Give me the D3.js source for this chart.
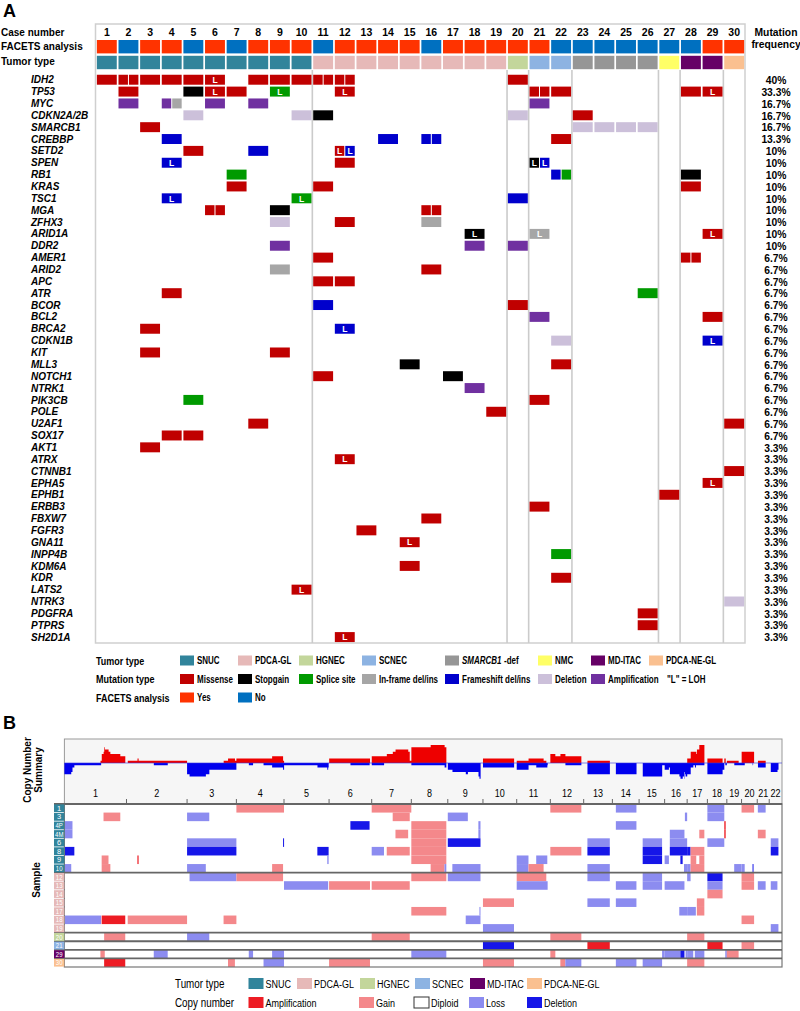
<!DOCTYPE html>
<html><head><meta charset="utf-8">
<script src="https://cdn.jsdelivr.net/npm/d3@7"></script>
<style>body{margin:0;background:#fff} text{font-family:Arial,"Liberation Sans",sans-serif}</style>
</head><body>
<svg id="c" width="800" height="1011"></svg>
<script>
// ---------------- DATA: Panel A ----------------
const caseNumbers = ["1","2","3","4","5","6","7","8","9","10","11","12","13","14","15","16","17","18","19","20","21","22","23","24","25","26","27","28","29","30"];
const facets = ["Yes","No","Yes","Yes","No","Yes","No","Yes","Yes","Yes","No","Yes","Yes","Yes","Yes","No","Yes","Yes","Yes","Yes","Yes","No","No","No","No","No","No","No","Yes","Yes"];
const tumorTypes = ["SNUC","SNUC","SNUC","SNUC","SNUC","SNUC","SNUC","SNUC","SNUC","SNUC",
  "PDCA-GL","PDCA-GL","PDCA-GL","PDCA-GL","PDCA-GL","PDCA-GL","PDCA-GL","PDCA-GL","PDCA-GL",
  "HGNEC","SCNEC","SCNEC","SMARCB1-def","SMARCB1-def","SMARCB1-def","SMARCB1-def","NMC","MD-ITAC","MD-ITAC","PDCA-NE-GL"];
const genes = ["IDH2","TP53","MYC","CDKN2A/2B","SMARCB1","CREBBP","SETD2","SPEN","RB1","KRAS","TSC1","MGA","ZFHX3","ARID1A","DDR2",
  "AMER1","ARID2","APC","ATR","BCOR","BCL2","BRCA2","CDKN1B","KIT","MLL3","NOTCH1","NTRK1","PIK3CB","POLE","U2AF1","SOX17",
  "AKT1","ATRX","CTNNB1","EPHA5","EPHB1","ERBB3","FBXW7","FGFR3","GNA11","INPP4B","KDM6A","KDR","LATS2","NTRK3","PDGFRA","PTPRS","SH2D1A"];
const frequencies = ["40%","33.3%","16.7%","16.7%","16.7%","13.3%","10%","10%","10%","10%","10%","10%","10%","10%","10%",
  "6.7%","6.7%","6.7%","6.7%","6.7%","6.7%","6.7%","6.7%","6.7%","6.7%","6.7%","6.7%","6.7%","6.7%","6.7%","6.7%",
  "3.3%","3.3%","3.3%","3.3%","3.3%","3.3%","3.3%","3.3%","3.3%","3.3%","3.3%","3.3%","3.3%","3.3%","3.3%","3.3%","3.3%"];
const mutationTypes = ["Missense","Stopgain","Splice site","In-frame del/ins","Frameshift del/ins","Deletion","Amplification"];
const mutationCodes = {M:"Missense",S:"Stopgain",P:"Splice site",I:"In-frame del/ins",F:"Frameshift del/ins",D:"Deletion",A:"Amplification"};
// [gene, case, type code, LOH flag]
const mutations = [
 ["IDH2",1,"M"],["IDH2",2,"M"],["IDH2",2,"M"],["IDH2",3,"M"],["IDH2",4,"M"],["IDH2",5,"M"],["IDH2",6,"M",1],["IDH2",8,"M"],["IDH2",9,"M"],["IDH2",10,"M"],["IDH2",11,"M"],["IDH2",11,"M"],["IDH2",12,"M"],["IDH2",12,"M"],["IDH2",20,"M"],
 ["TP53",2,"M"],["TP53",5,"S"],["TP53",6,"M",1],["TP53",7,"M"],["TP53",9,"P",1],["TP53",12,"M",1],["TP53",21,"M"],["TP53",21,"M"],["TP53",22,"M"],["TP53",28,"M"],["TP53",29,"M",1],
 ["MYC",2,"A"],["MYC",4,"A"],["MYC",4,"I"],["MYC",6,"A"],["MYC",8,"A"],["MYC",21,"A"],
 ["CDKN2A/2B",5,"D"],["CDKN2A/2B",10,"D"],["CDKN2A/2B",11,"S"],["CDKN2A/2B",20,"D"],["CDKN2A/2B",23,"M"],
 ["SMARCB1",3,"M"],["SMARCB1",23,"D"],["SMARCB1",24,"D"],["SMARCB1",25,"D"],["SMARCB1",26,"D"],
 ["CREBBP",4,"F"],["CREBBP",14,"F"],["CREBBP",16,"F"],["CREBBP",16,"F"],["CREBBP",22,"M"],
 ["SETD2",5,"M"],["SETD2",8,"F"],["SETD2",12,"M",1],["SETD2",12,"F",1],
 ["SPEN",4,"F",1],["SPEN",12,"M"],["SPEN",21,"S",1],["SPEN",21,"F",1],
 ["RB1",7,"P"],["RB1",22,"F"],["RB1",22,"P"],["RB1",28,"S"],
 ["KRAS",7,"M"],["KRAS",11,"M"],["KRAS",28,"M"],
 ["TSC1",4,"F",1],["TSC1",10,"P",1],["TSC1",20,"F"],
 ["MGA",6,"M"],["MGA",6,"M"],["MGA",9,"S"],["MGA",16,"M"],["MGA",16,"M"],
 ["ZFHX3",9,"D"],["ZFHX3",12,"M"],["ZFHX3",16,"I"],
 ["ARID1A",18,"S",1],["ARID1A",21,"I",1],["ARID1A",29,"M",1],
 ["DDR2",9,"A"],["DDR2",18,"A"],["DDR2",20,"A"],
 ["AMER1",11,"M"],["AMER1",28,"M"],["AMER1",28,"M"],
 ["ARID2",9,"I"],["ARID2",16,"M"],
 ["APC",11,"M"],["APC",12,"M"],
 ["ATR",4,"M"],["ATR",26,"P"],
 ["BCOR",11,"F"],["BCOR",20,"M"],
 ["BCL2",21,"A"],["BCL2",29,"M"],
 ["BRCA2",3,"M"],["BRCA2",12,"F",1],
 ["CDKN1B",22,"D"],["CDKN1B",29,"F",1],
 ["KIT",3,"M"],["KIT",9,"M"],
 ["MLL3",15,"S"],["MLL3",22,"M"],
 ["NOTCH1",11,"M"],["NOTCH1",17,"S"],
 ["NTRK1",18,"A"],
 ["PIK3CB",5,"P"],["PIK3CB",21,"M"],
 ["POLE",19,"M"],
 ["U2AF1",8,"M"],["U2AF1",30,"M"],
 ["SOX17",4,"M"],["SOX17",5,"M"],
 ["AKT1",3,"M"],["ATRX",12,"M",1],["CTNNB1",30,"M"],["EPHA5",29,"M",1],["EPHB1",27,"M"],["ERBB3",21,"M"],["FBXW7",16,"M"],
 ["FGFR3",13,"M"],["GNA11",15,"M",1],["INPP4B",22,"P"],["KDM6A",15,"M"],["KDR",22,"M"],["LATS2",10,"M",1],["NTRK3",30,"D"],
 ["PDGFRA",26,"M"],["PTPRS",26,"M"],["SH2D1A",12,"M",1]
];
const legendTumorTypes = ["SNUC","PDCA-GL","HGNEC","SCNEC","SMARCB1-def","NMC","MD-ITAC","PDCA-NE-GL"];
const facetsLevels = ["Yes","No"];

// ---------------- DATA: Panel B ----------------
const chromosomes = ["1","2","3","4","5","6","7","8","9","10","11","12","13","14","15","16","17","18","19","20","21","22"];
const chromLengths = [249.3,243.2,198.0,191.2,180.9,171.1,159.1,146.4,141.2,135.5,135.0,133.9,115.2,107.3,102.5,90.4,81.2,78.1,59.1,63.0,48.1,51.3];
const cnSamples = ["1","3","4P","4M","6","8","9","10","12","13","14","15","17","18","19","20","21","29","30"];
const cnSampleTypes = ["SNUC","SNUC","SNUC","SNUC","SNUC","SNUC","SNUC","SNUC","PDCA-GL","PDCA-GL","PDCA-GL","PDCA-GL","PDCA-GL","PDCA-GL","PDCA-GL","HGNEC","SCNEC","MD-ITAC","PDCA-NE-GL"];
const cnStates = ["Amplification","Gain","Diploid","Loss","Deletion"];
const cnTumorLegend = ["SNUC","PDCA-GL","HGNEC","SCNEC","MD-ITAC","PDCA-NE-GL"];
// [sample, chromosome, start fraction, end fraction, state]
const cnSegments = [
 ["1",4,0,1,"Gain"],["1",7,0,1,"Gain"],["1",12,0,0.93,"Gain"],["1",14,0.13,0.9,"Loss"],["1",18,0,0.87,"Loss"],["1",20,0,0.8,"Gain"],["1",21,0.05,0.7,"Loss"],
 ["3",1,0.63,0.9,"Gain"],["3",3,0,0.45,"Loss"],["3",7,0.53,0.96,"Gain"],["3",9,0,0.57,"Loss"],["3",16,0.9,1,"Loss"],["3",18,0,0.87,"Loss"],
 ["4P",1,0,0.13,"Loss"],["4P",6,0.5,0.95,"Deletion"],["4P",8,0,0.96,"Gain"],["4P",9,0.87,0.93,"Loss"],["4P",14,0.13,0.9,"Loss"],["4P",18,0.87,0.94,"Amplification"],
 ["4M",1,0,0.13,"Loss"],["4M",7,0.6,0.92,"Gain"],["4M",8,0,0.96,"Gain"],["4M",9,0.87,0.93,"Loss"],["4M",16,0.23,0.88,"Loss"],["4M",17,0.6,0.85,"Gain"],["4M",18,0.87,0.94,"Amplification"],["4M",21,0.05,0.7,"Gain"],
 ["6",3,0,1,"Loss"],["6",4,0.98,1,"Deletion"],["6",8,0,0.96,"Gain"],["6",9,0,0.93,"Deletion"],["6",13,0.13,0.91,"Loss"],["6",15,0.14,0.9,"Loss"],["6",16,0.23,1,"Loss"],["6",18,0,0.87,"Loss"],["6",22,0.12,0.72,"Loss"],
 ["8",1,0,0.16,"Deletion"],["8",3,0,1,"Deletion"],["8",5,0.74,0.99,"Deletion"],["8",7,0,0.31,"Loss"],["8",7,0.38,0.96,"Gain"],["8",8,0,0.96,"Gain"],["8",12,0,0.93,"Gain"],["8",13,0.13,0.91,"Deletion"],["8",15,0.14,0.9,"Deletion"],["8",16,0.23,1,"Deletion"],["8",17,0,0.17,"Deletion"],["8",17,0.17,0.85,"Gain"],["8",22,0.12,0.72,"Deletion"],
 ["9",1,0.6,0.71,"Gain"],["9",2,0.18,0.2,"Amplification"],["9",5,0.96,0.99,"Loss"],["9",8,0,0.96,"Gain"],["9",11,0,0.35,"Loss"],["9",11,0.58,0.91,"Loss"],["9",15,0.14,0.9,"Deletion"],["9",16,0,0.19,"Loss"],["9",16,0.7,0.8,"Deletion"],["9",17,0.17,0.45,"Gain"],["9",17,0.6,0.85,"Gain"],
 ["10",1,0,0.11,"Loss"],["10",1,0.6,0.74,"Gain"],["10",3,0,0.38,"Loss"],["10",4,0.75,0.98,"Gain"],["10",8,0.53,0.91,"Gain"],["10",8,0.91,0.96,"Loss"],["10",9,0.13,0.93,"Loss"],["10",11,0,0.35,"Loss"],["10",11,0.35,0.8,"Gain"],["10",13,0.13,0.91,"Loss"],["10",16,0.86,1,"Loss"],["10",17,0,0.17,"Loss"],["10",17,0.17,0.85,"Gain"],["10",19,0.5,1,"Loss"],["10",20,0,0.2,"Loss"],["10",20,0.7,0.73,"Deletion"],
 ["12",3,0.05,1,"Loss"],["12",4,0,0.98,"Gain"],["12",8,0,0.96,"Gain"],["12",9,0,0.93,"Loss"],["12",11,0,0.88,"Gain"],["12",13,0.13,0.91,"Loss"],["12",15,0.14,0.9,"Loss"],["12",17,0,0.17,"Loss"],["12",18,0,0.78,"Deletion"],["12",20,0,0.8,"Gain"],
 ["13",5,0,0.98,"Loss"],["13",6,0,0.96,"Gain"],["13",7,0,0.96,"Gain"],["13",11,0,0.92,"Loss"],["13",14,0.13,0.9,"Loss"],["13",15,0.14,0.9,"Loss"],["13",16,0,0.88,"Loss"],["13",18,0,0.78,"Loss"],["13",20,0,0.8,"Gain"],["13",21,0.05,0.7,"Loss"],["13",22,0.12,0.64,"Loss"],
 ["14",18,0,0.78,"Gain"],
 ["15",10,0,0.92,"Gain"],["15",13,0.13,0.91,"Loss"],["15",14,0.13,0.9,"Loss"],["15",17,0.48,0.85,"Gain"],
 ["17",8,0,0.96,"Gain"],["17",9,0.9,0.93,"Loss"],["17",16,0.65,1,"Loss"],["17",17,0,0.43,"Loss"],["17",17,0.48,0.85,"Gain"],
 ["18",1,0,0.59,"Loss"],["18",1,0.6,0.98,"Amplification"],["18",2,0.02,1,"Gain"],["18",3,0.74,1,"Gain"],["18",9,0.51,0.93,"Loss"],["18",20,0,0.8,"Gain"],
 ["19",10,0,0.92,"Loss"],["19",22,0.12,0.72,"Loss"],
 ["20",1,0.64,0.98,"Gain"],["20",3,0,0.45,"Loss"],["20",7,0,0.96,"Gain"],["20",12,0,0.93,"Gain"],["20",17,0,0.85,"Gain"],
 ["21",10,0,0.92,"Deletion"],["21",13,0.13,0.91,"Amplification"],["21",18,0,0.78,"Amplification"],["21",20,0,0.8,"Gain"],
 ["29",1,0.58,0.65,"Gain"],["29",2,0.45,0.68,"Loss"],["29",4,0.26,0.35,"Loss"],["29",4,0.75,1,"Loss"],["29",8,0,0.96,"Loss"],["29",12,0,0.15,"Gain"],["29",15,0.9,1,"Loss"],["29",16,0,0.7,"Loss"],["29",16,0.7,0.88,"Deletion"],["29",16,0.93,1,"Loss"],["29",17,0,0.3,"Loss"],["29",17,0.38,0.85,"Loss"],["29",18,0.92,1,"Loss"],["29",19,0,0.8,"Gain"],
 ["30",1,0.64,0.98,"Amplification"],["30",3,0.83,0.97,"Gain"],["30",4,0.57,1,"Loss"],["30",6,0,0.96,"Gain"],["30",10,0,0.92,"Gain"],["30",12,0.3,0.45,"Gain"],["30",12,0.45,0.93,"Loss"],["30",14,0.13,0.9,"Loss"],["30",15,0.14,0.9,"Loss"],["30",17,0,0.85,"Gain"]
];

// ---------------- STYLE ----------------
const tumorColors = {"SNUC":"#31849b","PDCA-GL":"#e6b9b8","HGNEC":"#c3d69b","SCNEC":"#8db3e2","SMARCB1-def":"#969696","NMC":"#ffff66","MD-ITAC":"#660066","PDCA-NE-GL":"#fac090"};
const facetsColors = {"Yes":"#ff3300","No":"#0070c0"};
const mutColors = {"Missense":"#c00000","Stopgain":"#000000","Splice site":"#009a00","In-frame del/ins":"#a6a6a6","Frameshift del/ins":"#0000cc","Deletion":"#ccc0da","Amplification":"#7030a0"};
const cnColors = {"Amplification":"#ed1c24","Gain":"#f4888b","Diploid":"#ffffff","Loss":"#8c8cf0","Deletion":"#1616e8"};

// condensed (narrow-font) look via horizontal scaling of each text
function squeeze(sel, f){
  sel.each(function(){
    const x = +this.getAttribute("x") || 0, y = +this.getAttribute("y") || 0;
    this.setAttribute("x",0); this.setAttribute("y",0);
    this.setAttribute("transform",`translate(${x},${y}) scale(${f},1)`);
  });
  return sel;
}

const svg = d3.select("#c");

// ================= PANEL A =================
svg.append("text").text("A").attr("x",3).attr("y",17).attr("font-size",18).attr("font-weight","bold");

const xA = d3.scaleBand().domain(caseNumbers).range([96,745]).paddingInner(0.08).paddingOuter(0.04);
const yA = d3.scaleBand().domain(genes).range([73.8,643]).paddingInner(0.16).paddingOuter(0.08);
const bw = xA.bandwidth(), bh = yA.bandwidth();

svg.append("rect").attr("x",95.5).attr("y",24).attr("width",649.5).attr("height",619)
  .attr("fill","none").attr("stroke","#cfcfcf").attr("stroke-width",1.5);

[["Case number",35.5],["FACETS analysis",50],["Tumor type",64.5]].forEach(([t,y])=>{
  svg.append("text").text(t).attr("x",1).attr("y",y).attr("font-size",10).attr("font-weight","bold");
});
svg.append("text").text("Mutation").attr("x",776).attr("y",35.5).attr("text-anchor","middle").attr("font-size",10.3).attr("font-weight","bold");
svg.append("text").text("frequency").attr("x",776).attr("y",48).attr("text-anchor","middle").attr("font-size",10.3).attr("font-weight","bold");

svg.append("g").selectAll("text").data(caseNumbers).join("text")
  .attr("x",d=>xA(d)+bw/2).attr("y",35.5).attr("text-anchor","middle")
  .attr("font-size",10.5).attr("font-weight","bold").text(d=>d);
svg.append("g").selectAll("rect").data(caseNumbers).join("rect")
  .attr("x",d=>xA(d)).attr("y",40).attr("width",bw).attr("height",13.4)
  .attr("fill",(d,i)=>facetsColors[facets[i]]);
svg.append("g").selectAll("rect").data(caseNumbers).join("rect")
  .attr("x",d=>xA(d)).attr("y",55.8).attr("width",bw).attr("height",13.4)
  .attr("fill",(d,i)=>tumorColors[tumorTypes[i]]);

const seps = [];
for(let i=1;i<caseNumbers.length;i++){ if(tumorTypes[i]!==tumorTypes[i-1]) seps.push((xA(caseNumbers[i-1])+bw+xA(caseNumbers[i]))/2); }
svg.append("g").selectAll("line").data(seps).join("line")
  .attr("x1",d=>d).attr("x2",d=>d).attr("y1",70).attr("y2",643)
  .attr("stroke","#cbcbcb").attr("stroke-width",1.6);

svg.append("g").selectAll("text").data(genes).join("text")
  .attr("x",31).attr("y",d=>yA(d)+bh/2+3.6).attr("font-size",10)
  .attr("font-weight","bold").attr("font-style","italic").text(d=>d);
svg.append("g").selectAll("text").data(frequencies).join("text")
  .attr("x",776).attr("y",(d,i)=>yA(genes[i])+bh/2+4.2).attr("text-anchor","middle")
  .attr("font-size",10.3).attr("font-weight","bold").text(d=>d);

const grouped = d3.group(mutations, d=>d[0]+"|"+d[1]);
const cells = [];
grouped.forEach(list=>{
  const n = list.length;
  list.forEach((m,k)=>{
    const x0 = xA(String(m[1])), y0 = yA(m[0]);
    const w = n===1 ? bw : (bw-1)/2;
    cells.push({x:x0 + k*(w+1), y:y0, w, h:bh, type:mutationCodes[m[2]], loh:!!m[3]});
  });
});
const cg = svg.append("g");
cg.selectAll("rect").data(cells).join("rect")
  .attr("x",d=>d.x).attr("y",d=>d.y).attr("width",d=>d.w).attr("height",d=>d.h)
  .attr("fill",d=>mutColors[d.type]);
cg.selectAll("text").data(cells.filter(d=>d.loh)).join("text")
  .attr("x",d=>d.x+d.w/2).attr("y",d=>d.y+d.h/2+3.2).attr("text-anchor","middle")
  .attr("font-size",8.5).attr("font-weight","bold").attr("fill","#fff").text("L");

// legend A
const lgCols = [180,238,299,362,445,538,591,649];
function legendRow(y, label, items, colorOf, xs){
  squeeze(svg.append("text").text(label).attr("x",96).attr("y",y+4).attr("font-size",11)
    .attr("font-weight","bold"), 0.82);
  items.forEach((it,i)=>{
    svg.append("rect").attr("x",xs[i]).attr("y",y-5).attr("width",14).attr("height",10).attr("fill",colorOf(it));
    if(it==="SMARCB1-def"){
      const t1 = svg.append("text").attr("x",xs[i]+17).attr("y",y+3.5).attr("font-size",10)
        .attr("font-weight","bold").attr("font-style","italic").text("SMARCB1");
      const w1 = t1.node().getComputedTextLength()*0.8;
      squeeze(t1, 0.8);
      squeeze(svg.append("text").attr("x",xs[i]+17+w1+2.5).attr("y",y+3.5).attr("font-size",10)
        .attr("font-weight","bold").text("-def"), 0.8);
    } else {
      squeeze(svg.append("text").attr("x",xs[i]+17).attr("y",y+3.5).attr("font-size",10)
        .attr("font-weight","bold").text(it), 0.8);
    }
  });
}
legendRow(660.5,"Tumor type",legendTumorTypes,d=>tumorColors[d],lgCols);
legendRow(679,"Mutation type",mutationTypes,d=>mutColors[d],lgCols);
squeeze(svg.append("text").text('"L" = LOH').attr("x",667).attr("y",682.5).attr("font-size",10)
  .attr("font-weight","bold"), 0.8);
legendRow(697.5,"FACETS analysis",facetsLevels,d=>facetsColors[d],lgCols);

// ================= PANEL B =================
svg.append("text").text("B").attr("x",3).attr("y",729).attr("font-size",18).attr("font-weight","bold");

const x0B = 64.4, x1B = 782;
const chrOffsets = [0, ...d3.cumsum(chromLengths)];
const genomeTotal = d3.sum(chromLengths);
const gx = d3.scaleLinear().domain([0,genomeTotal]).range([x0B,x1B]);

svg.append("rect").attr("x",x0B).attr("y",739).attr("width",x1B-x0B).attr("height",65)
  .attr("fill","#f6f6f6").attr("stroke","#999").attr("stroke-width",1);

const segs = cnSegments.map(([s,c,f0,f1,st])=>({s,st,
  a:chrOffsets[c-1]+f0*chromLengths[c-1], b:chrOffsets[c-1]+f1*chromLengths[c-1]}));
const bins = d3.range(0,genomeTotal,0.5).map(p=>{
  let pos=0,neg=0;
  segs.forEach(g=>{ if(p>=g.a && p<g.b){ if(g.st==="Gain"||g.st==="Amplification") pos++; else if(g.st==="Loss"||g.st==="Deletion") neg++; }});
  return {p,pos,neg};
});
const baseY = 763;
const ys = d3.scaleLinear().domain([-cnSamples.length,cnSamples.length]).range([baseY+43,baseY-43]);
svg.append("path").datum(bins).attr("fill","#ee0000")
  .attr("d",d3.area().curve(d3.curveStepAfter).x(d=>gx(d.p)).y0(baseY).y1(d=>ys(d.pos)));
svg.append("path").datum(bins).attr("fill","#0000ee")
  .attr("d",d3.area().curve(d3.curveStepAfter).x(d=>gx(d.p)).y0(baseY).y1(d=>ys(-d.neg)));
svg.append("line").attr("x1",x0B).attr("x2",x1B).attr("y1",baseY).attr("y2",baseY).attr("stroke","#3333dd").attr("stroke-width",0.6);

squeeze(svg.append("g").selectAll("text").data(chromosomes).join("text")
  .attr("x",(d,i)=>gx(chrOffsets[i]+chromLengths[i]/2)).attr("y",797)
  .attr("text-anchor","middle").attr("font-size",11).text(d=>d), 0.82);
svg.append("g").selectAll("line").data(chrOffsets.slice(1,-1)).join("line")
  .attr("x1",d=>gx(d)).attr("x2",d=>gx(d)).attr("y1",799).attr("y2",804)
  .attr("stroke","#666").attr("stroke-width",1);

const yB = d3.scaleBand().domain(cnSamples).range([804,967]);
const rh = yB.bandwidth();
svg.append("g").selectAll("rect").data(segs).join("rect")
  .attr("x",d=>gx(d.a)).attr("width",d=>Math.max(1,gx(d.b)-gx(d.a)))
  .attr("y",d=>yB(d.s)).attr("height",rh).attr("fill",d=>cnColors[d.st]);
svg.append("rect").attr("x",x0B).attr("y",804).attr("width",x1B-x0B).attr("height",163)
  .attr("fill","none").attr("stroke","#777").attr("stroke-width",1.2);
const bSeps = [];
for(let i=1;i<cnSamples.length;i++){ if(cnSampleTypes[i]!==cnSampleTypes[i-1]) bSeps.push(yB(cnSamples[i])); }
svg.append("g").selectAll("line").data(bSeps).join("line")
  .attr("x1",54).attr("x2",x1B).attr("y1",d=>d).attr("y2",d=>d)
  .attr("stroke","#666").attr("stroke-width",1.8);
svg.append("line").attr("x1",54).attr("x2",x1B).attr("y1",804).attr("y2",804).attr("stroke","#666").attr("stroke-width",1.8);
svg.append("g").selectAll("rect").data(cnSamples).join("rect")
  .attr("x",54).attr("y",d=>yB(d)+0.4).attr("width",10.4).attr("height",rh-0.8)
  .attr("fill",(d,i)=>tumorColors[cnSampleTypes[i]]);
svg.append("g").selectAll("text").data(cnSamples).join("text")
  .attr("x",59.2).attr("y",d=>yB(d)+rh/2+2.6).attr("text-anchor","middle")
  .attr("font-size",7.5).attr("fill","#fff").text(d=>d)
  .each(function(d){ if(d.length>1) squeeze(d3.select(this),0.8); });

svg.append("text").attr("transform","translate(31,770) rotate(-90)").attr("text-anchor","middle")
  .attr("font-size",10).attr("font-weight","bold").text("Copy Number");
svg.append("text").attr("transform","translate(42,770) rotate(-90)").attr("text-anchor","middle")
  .attr("font-size",10).attr("font-weight","bold").text("Summary");
svg.append("text").attr("transform","translate(40,880) rotate(-90)").attr("text-anchor","middle")
  .attr("font-size",10).attr("font-weight","bold").text("Sample");

// legend B
const lbX = [248.5,297,360,415,470,527];
squeeze(svg.append("text").text("Tumor type").attr("x",175).attr("y",988).attr("font-size",12), 0.82);
cnTumorLegend.forEach((t,i)=>{
  svg.append("rect").attr("x",lbX[i]).attr("y",978).attr("width",15).attr("height",11).attr("fill",tumorColors[t]);
  squeeze(svg.append("text").text(t).attr("x",lbX[i]+17).attr("y",987.5).attr("font-size",11), 0.82);
});
const lcX = [248.5,359,414,469,527];
squeeze(svg.append("text").text("Copy number").attr("x",175).attr("y",1007).attr("font-size",12), 0.82);
cnStates.forEach((t,i)=>{
  svg.append("rect").attr("x",lcX[i]).attr("y",997).attr("width",15).attr("height",11).attr("fill",cnColors[t])
    .attr("stroke",t==="Diploid"?"#333":"none").attr("stroke-width",1);
  squeeze(svg.append("text").text(t).attr("x",lcX[i]+17).attr("y",1006.5).attr("font-size",11), 0.82);
});
</script>
</body></html>
